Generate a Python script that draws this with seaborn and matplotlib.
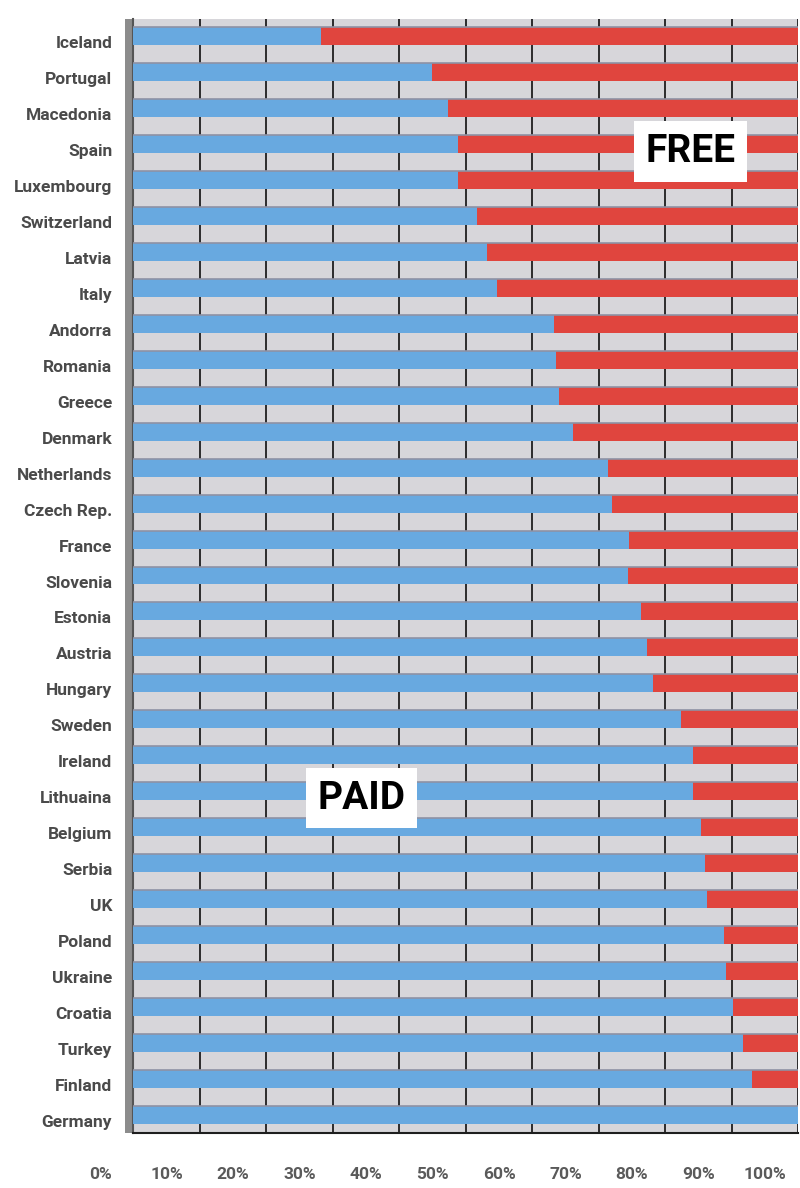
import numpy as np
import pandas as pd
import matplotlib
matplotlib.use("Agg")
import matplotlib.pyplot as plt
import matplotlib.transforms as mtransforms
from matplotlib.patches import Rectangle
import seaborn as sns

# Data (in % of total)
countries = [
    "Iceland", "Portugal", "Macedonia", "Spain", "Luxembourg", "Switzerland",
    "Latvia", "Italy", "Andorra", "Romania", "Greece", "Denmark",
    "Netherlands", "Czech Rep.", "France", "Slovenia", "Estonia", "Austria",
    "Hungary", "Sweden", "Ireland", "Lithuaina", "Belgium", "Serbia", "UK",
    "Poland", "Ukraine", "Croatia", "Turkey", "Finland", "Germany",
]
paid_pct = [
    28.2, 45.0, 47.4, 48.8, 48.9, 51.8,
    53.2, 54.7, 63.3, 63.6, 64.1, 66.2,
    71.4, 72.0, 74.6, 74.4, 76.4, 77.3,
    78.2, 82.4, 84.2, 84.2, 85.4, 86.0, 86.3,
    88.9, 89.2, 90.2, 91.7, 93.1, 100.0,
]
free_pct = [
    71.8, 55.0, 52.6, 51.2, 51.1, 48.2,
    46.8, 45.3, 36.7, 36.4, 35.9, 33.8,
    28.6, 28.0, 25.4, 25.6, 23.6, 22.7,
    21.8, 17.6, 15.8, 15.8, 14.6, 14.0, 13.7,
    11.1, 10.8, 9.8, 8.3, 6.9, 0.0,
]
x_ticks = list(range(0, 101, 10))
x_labels = [f"{v}%" for v in x_ticks]

BLUE = "#68a9e0"
RED = "#e0453e"
WALL = "#d7d6da"
LABEL_FONT = ["Roboto", "DejaVu Sans"]

df = pd.DataFrame({"country": countries, "paid": paid_pct, "free": free_pct})
df["total"] = df["paid"] + df["free"]

sns.set_style("white")

fig = plt.figure(figsize=(8, 11.88), dpi=100)
ax = fig.add_axes([133 / 800, 1 - 1132.5 / 1188, 665 / 800, 1114 / 1188])
ax.set_facecolor(WALL)

# red = whole bar (paid + free), blue = paid part on top
sns.barplot(data=df, y="country", x="total", color=RED, orient="h",
            width=0.5, saturation=1, errorbar=None, linewidth=0, ax=ax, zorder=3)
sns.barplot(data=df, y="country", x="paid", color=BLUE, orient="h",
            width=0.5, saturation=1, errorbar=None, linewidth=0, ax=ax, zorder=4)

ax.set_xlim(0, 100)
ax.set_ylim(len(countries) - 0.5, -0.5)
ax.set_xlabel("")
ax.set_ylabel("")

# thin shadow line on top of each bar
for i in range(len(countries)):
    ax.axhline(i - 0.25, color="#8e92a4", lw=1.2, zorder=5)

ax.set_xticks(x_ticks)
ax.set_xticklabels(x_labels)
ax.grid(axis="x", color="#1e1e1e", lw=1.3, zorder=1)
ax.grid(axis="y", visible=False)
ax.set_axisbelow(True)

for side in ["top", "right"]:
    ax.spines[side].set_visible(False)
ax.spines["left"].set_color("#555555")
ax.spines["left"].set_linewidth(1.5)
ax.spines["bottom"].set_color("#1e1e1e")
ax.spines["bottom"].set_linewidth(1.5)

# left side wall of the 3D look
ax.add_patch(Rectangle((-0.012, 0), 0.012, 1, transform=ax.transAxes,
                       facecolor="#8c8c8c", edgecolor="none", clip_on=False, zorder=1))

ax.tick_params(axis="x", direction="out", length=13, width=1.5, color="#1e1e1e", pad=12)
for lab in ax.get_xticklabels():
    lab.set_fontfamily(LABEL_FONT)
    lab.set_fontweight("bold")
    lab.set_fontsize(12.5)
    lab.set_color("#5a5a5a")
    lab.set_transform(lab.get_transform() +
                      mtransforms.ScaledTranslation(-0.33, 0, fig.dpi_scale_trans))

ax.set_yticks(np.arange(-0.5, len(countries), 1), minor=True)
ax.tick_params(axis="y", which="major", length=0, pad=15)
ax.tick_params(axis="y", which="minor", direction="out", length=6, width=2, color="#444444")
for lab in ax.get_yticklabels():
    lab.set_fontfamily(LABEL_FONT)
    lab.set_fontweight("bold")
    lab.set_fontsize(12.5)
    lab.set_color("#4a4a4a")
    lab.set_transform(lab.get_transform() +
                      mtransforms.ScaledTranslation(0, -0.06, fig.dpi_scale_trans))

box = dict(boxstyle="square,pad=0.3", facecolor="white", edgecolor="none")
ax.text(83.8, 3.2, "FREE", ha="center", va="center", fontsize=28,
        fontweight="bold", family="Roboto", color="black", bbox=box, zorder=6)
ax.text(34.4, 21.2, "PAID", ha="center", va="center", fontsize=28,
        fontweight="bold", family="Roboto", color="black", bbox=box, zorder=6)

fig.savefig("out.png", dpi=100)
